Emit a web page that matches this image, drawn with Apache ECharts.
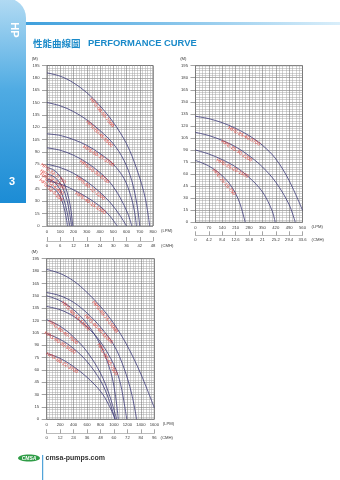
<!DOCTYPE html>
<html><head><meta charset="utf-8">
<script src="https://cdn.jsdelivr.net/npm/echarts@6/dist/echarts.min.js"></script>
<style>html,body{margin:0;padding:0;background:#fff}#c{width:340px;height:480px}</style>
</head><body><div id="c"></div>
<script>
// ---------------- DATA ----------------
const headTicks = [0,15,30,45,60,75,90,105,120,135,150,165,180,195];

// Chart 1 (top-left)
const c1LpmTicks = [0,100,200,300,400,500,600,700,800];
const c1CmhTicks = [0,6,12,18,24,30,36,42,48];
const c1Names = ['HPS-50-55-7500','HPS-50-45-5500','HPS-50-37-3700','HPS-50-30-3700','HPS-50-22-2200','HPS-40-15-1500','HPS-32-7-750','HPS-32-5-550','HPS-32-4-400','HPS-32-3-250'];
const c1A = [[0,186],[100,182],[200,174],[300,162],[400,146],[500,126],[600,100],[680,68],[740,35],[775,0]];
const c1B = [[0,150],[100,146],[200,139],[300,129],[400,116],[500,100],[580,80],[640,55],[680,25],[700,0]];
const c1C = [[0,112],[100,110],[200,105],[300,98],[400,88],[500,75],[580,58],[630,38],[660,18],[675,0]];
const c1D = [[0,95],[100,92],[200,86],[300,77],[400,65],[480,52],[550,35],[610,15],[640,0]];
const c1E = [[0,75],[100,71],[200,64],[300,54],[400,41],[480,28],[550,13],[600,0]];
const c1F = [[0,55],[100,51],[200,44],[300,35],[400,24],[470,13],[530,0]];
const c1S1 = [[0,71],[40,69],[80,64],[120,55],[150,42],[175,25],[195,0]];
const c1S2 = [[0,63],[40,61],[80,56],[120,46],[150,32],[170,16],[185,0]];
const c1S3 = [[0,57],[40,55],[80,49],[110,40],[140,25],[160,10],[172,0]];
const c1S4 = [[0,49],[40,47],[80,41],[110,32],[135,18],[155,0]];
const c1Curves = [c1A,c1B,c1C,c1D,c1E,c1F,c1S1,c1S2,c1S3,c1S4];
const c1LabelQ = [430,410,400,370,340,340,60,55,50,45];

// Chart 2 (top-right)
const c2LpmTicks = [0,70,140,210,280,350,420,490,560];
const c2CmhTicks = [0,4.2,8.4,12.6,16.8,21,25.2,29.4,33.6];
const c2Names = ['HPE-25-40-3700','HPE-25-30-2200','HPE-25-22-1500','HPE-25-15-750'];
const c2A = [[0,132],[70,129],[140,124],[210,117],[280,108],[350,96],[420,79],[490,52],[560,15]];
const c2B = [[0,112],[70,108],[140,102],[210,94],[280,83],[350,69],[420,50],[490,22],[522,0]];
const c2C = [[0,90],[70,85],[140,78],[210,69],[280,56],[350,38],[400,15],[417,0]];
const c2D = [[0,77],[70,70],[140,58],[190,44],[230,25],[260,0]];
const c2Curves = [c2A,c2B,c2C,c2D];
const c2LabelQ = [262,223,200,160];

// Chart 3 (bottom-left)
const c3LpmTicks = [0,200,400,600,800,1000,1200,1400,1600];
const c3CmhTicks = [0,12,24,36,48,60,72,84,96];
const c3Names = ['HPG-80-75-15000','HPG-80-60-11000','HPG-80-55-11000','HPG-80-45-7500','HPG-80-40-7500','HPG-80-30-5500','HPG-80-22-3700'];
const c3A = [[0,182],[200,177],[400,168],[600,154],[800,137],[1000,116],[1200,89],[1400,55],[1600,14]];
const c3B = [[0,154],[200,150],[400,142],[600,129],[800,112],[1000,90],[1150,62],[1260,32],[1338,0]];
const c3C = [[0,150],[200,144],[400,133],[600,116],[800,90],[950,58],[1020,30],[1065,0]];
const c3D = [[0,137],[200,133],[400,125],[600,112],[800,94],[1000,66],[1100,42],[1190,0]];
const c3E = [[0,121],[200,113],[400,100],[600,82],[800,56],[930,30],[1040,0]];
const c3F = [[0,104],[200,97],[400,86],[600,70],[800,47],[920,25],[1015,0]];
const c3G = [[0,80],[200,74],[400,64],[600,51],[800,34],[920,18],[1020,0]];
const c3Curves = [c3A,c3B,c3C,c3D,c3E,c3F,c3G];
const c3LabelQ = [900,800,460,940,270,220,250];

// ---------------- STYLE / LAYOUT ----------------
const FONT = 'Liberation Sans, Arial, sans-serif';
const CURVE = '#3c3a78';
const LABEL_RED = '#e0413b';
const TXT = '#3a3a3a';

const grids = [
  {left:47, top:65.5, width:106, height:160.5},
  {left:195.5, top:65.7, width:107, height:156.6},
  {left:46.7, top:258.7, width:107.6, height:160.6}
];
const charts = [
  {lpm:c1LpmTicks, cmh:c1CmhTicks, curves:c1Curves, names:c1Names, lq:c1LabelQ, minX:5, minY:5, cmhOff:15, nameGap:8},
  {lpm:c2LpmTicks, cmh:c2CmhTicks, curves:c2Curves, names:c2Names, lq:c2LabelQ, minX:4, minY:5, cmhOff:13, nameGap:9},
  {lpm:c3LpmTicks, cmh:c3CmhTicks, curves:c3Curves, names:c3Names, lq:c3LabelQ, minX:5, minY:5, cmhOff:14, nameGap:6}
];

const fmt = v => String(+(+v).toFixed(1));
const xAxes = [], yAxes = [], series = [];
charts.forEach((c, g) => {
  const lpmMax = c.lpm[c.lpm.length-1], lpmInt = c.lpm[1]-c.lpm[0];
  const cmhMax = c.cmh[c.cmh.length-1], cmhInt = c.cmh[1]-c.cmh[0];
  xAxes.push({
    gridIndex:g, type:'value', min:0, max:lpmMax, interval:lpmInt,
    axisLine:{show:false}, axisTick:{show:false},
    axisLabel:{fontSize:4.2, color:TXT, margin:3.5, fontFamily:FONT, formatter:fmt},
    splitLine:{show:true, lineStyle:{color:'#7a7a7a', width:0.6}},
    minorTick:{show:false, splitNumber:c.minX},
    minorSplitLine:{show:true, lineStyle:{color:'#a4a4a4', width:0.5}},
    name:'(LPM)', nameLocation:'end', nameGap:c.nameGap,
    nameTextStyle:{fontSize:4.2, color:TXT, fontFamily:FONT, verticalAlign:'top', padding:[3,0,0,0]}
  });
  xAxes.push({
    gridIndex:g, type:'value', position:'bottom', offset:c.cmhOff, min:0, max:cmhMax, interval:cmhInt,
    axisLine:{show:true, lineStyle:{color:'#777', width:0.5}},
    axisTick:{show:true, inside:true, length:4, lineStyle:{color:'#666', width:0.6}},
    axisLabel:{fontSize:4.2, color:TXT, margin:2.5, fontFamily:FONT, formatter:fmt},
    splitLine:{show:false},
    name:'(CMH)', nameLocation:'end', nameGap:c.nameGap,
    nameTextStyle:{fontSize:4.2, color:TXT, fontFamily:FONT, verticalAlign:'top', padding:[3,0,0,0]}
  });
  yAxes.push({
    gridIndex:g, type:'value', min:headTicks[0], max:headTicks[headTicks.length-1], interval:headTicks[1]-headTicks[0],
    axisLine:{show:false},
    axisTick:{show:true, length:5, lineStyle:{color:'#666', width:0.6}},
    axisLabel:{fontSize:4.2, color:TXT, margin:7.5, fontFamily:FONT},
    splitLine:{show:true, lineStyle:{color:'#7a7a7a', width:0.6}},
    minorTick:{show:false, splitNumber:c.minY},
    minorSplitLine:{show:true, lineStyle:{color:'#a4a4a4', width:0.5}},
    name:'(M)', nameLocation:'end', nameGap:5,
    nameTextStyle:{fontSize:4.2, color:TXT, fontFamily:FONT, align:'right', padding:[0,9,0,0]}
  });
  c.curves.forEach((d, k) => {
    series.push({
      type:'line', xAxisIndex:2*g, yAxisIndex:g, data:d, smooth:0.35, symbol:'none',
      lineStyle:{color:CURVE, width:0.8}, silent:true, animation:false, clip:true, z:3,
      _g:g, _k:k
    });
  });
});

const graphic = [
  {type:'rect', z:1, shape:{x:0,y:-2,width:26,height:205,r:[0,20,0,0]},
   style:{fill:new echarts.graphic.LinearGradient(0,0,0,1,[{offset:0,color:'#b3dbf3'},{offset:0.45,color:'#4fabe3'},{offset:1,color:'#1c8cd5'}])}},
  {type:'rect', z:0, shape:{x:20,y:22,width:320,height:3},
   style:{fill:new echarts.graphic.LinearGradient(0,0,1,0,[{offset:0,color:'#3b9edc'},{offset:1,color:'#d9eefa'}])}},
  {type:'text', z:2, x:14.5, y:30, rotation:-Math.PI/2,
   style:{text:'HP', fill:'#fff', font:'bold 11px '+FONT, align:'center', verticalAlign:'middle'}},
  {type:'text', z:2, x:12, y:182,
   style:{text:'3', fill:'#fff', font:'bold 11px '+FONT, align:'center', verticalAlign:'middle'}},
  {type:'text', x:33, y:43.5,
   style:{text:'性能曲線圖', fill:'#1a8ac9', font:'bold 9.5px "Noto Sans CJK TC"', verticalAlign:'middle'}},
  {type:'text', x:88, y:43.8,
   style:{text:'PERFORMANCE CURVE', fill:'#1a8ac9', font:'bold 9.4px '+FONT, verticalAlign:'middle'}},
  {type:'ellipse', shape:{cx:29,cy:458,rx:11,ry:3.6}, style:{fill:'#2f9c46'}},
  {type:'text', x:29, y:458.2,
   style:{text:'CMSA', fill:'#fff', font:'italic bold 5px '+FONT, align:'center', verticalAlign:'middle'}},
  {type:'line', shape:{x1:42.7,y1:455,x2:42.7,y2:480}, style:{stroke:'#2a8fd0', lineWidth:1}},
  {type:'text', x:45.5, y:458,
   style:{text:'cmsa-pumps.com', fill:'#333', font:'bold 7px '+FONT, verticalAlign:'middle'}}
];

const chart = echarts.init(document.getElementById('c'), null, {renderer:'canvas', width:340, height:480});
chart.setOption({
  animation:false,
  grid: grids.map(r => Object.assign({show:true, borderColor:'#555', borderWidth:0.8, backgroundColor:'#fff', containLabel:false}, r)),
  xAxis:xAxes, yAxis:yAxes, series:series, graphic:graphic
});

// curve labels, placed along each curve using the library's own scales
const seriesLabels = series.map((s, si) => {
  const c = charts[s._g];
  const d = s.data, q = c.lq[s._k];
  let i = 0;
  while (i < d.length-2 && d[i+1][0] < q) i++;
  const a = chart.convertToPixel({seriesIndex:si}, d[i]);
  const b = chart.convertToPixel({seriesIndex:si}, d[i+1]);
  const t = (q - d[i][0]) / (d[i+1][0] - d[i][0]);
  const x = a[0] + (b[0]-a[0])*t, y = a[1] + (b[1]-a[1])*t;
  const dx = b[0]-a[0], dy = b[1]-a[1], len = Math.hypot(dx, dy);
  const off = 2.8;
  return {
    markPoint:{
      silent:true, symbol:'circle', symbolSize:0, animation:false,
      data:[{x: x - dy/len*off, y: y + dx/len*off,
        label:{show:true, formatter:c.names[s._k], rotate:-Math.atan2(dy,dx)*180/Math.PI,
               fontSize:4.8, color:LABEL_RED, fontFamily:FONT, position:'inside'}}]
    }
  };
});
chart.setOption({series:seriesLabels});
</script></body></html>
